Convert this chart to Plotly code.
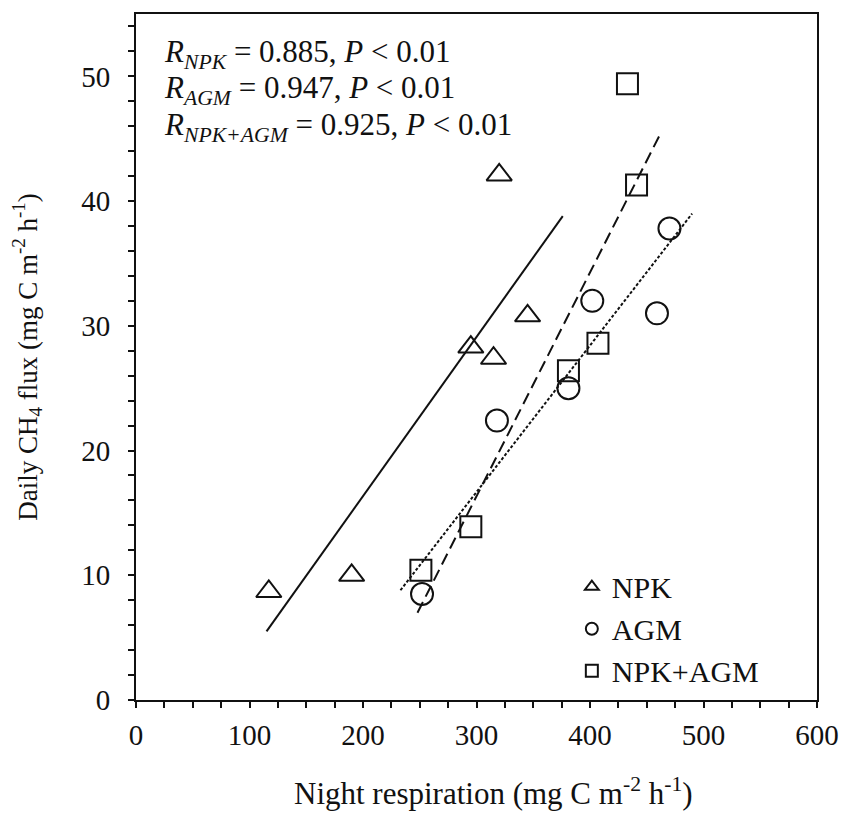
import plotly.graph_objects as go

# Data
npk_x = [117, 190, 295, 315, 345, 320]
npk_y = [8.7, 10.0, 28.3, 27.4, 30.8, 42.1]

agm_x = [252, 318, 381, 402, 459, 470]
agm_y = [8.5, 22.4, 25.0, 32.0, 31.0, 37.8]

mix_x = [251, 295, 381, 407, 441, 433]
mix_y = [10.4, 13.9, 26.4, 28.6, 41.3, 49.4]

# Regression line end points (as drawn in the reference)
fit_npk_x = [115, 376]
fit_npk_y = [5.5, 38.8]
fit_agm_x = [233, 490]
fit_agm_y = [8.8, 39.0]
fit_mix_x = [248, 462]
fit_mix_y = [7.0, 45.4]

stats = [("NPK", "0.885"), ("AGM", "0.947"), ("NPK+AGM", "0.925")]

FONT = "Liberation Serif, Times New Roman, serif"
BLACK = "#111111"

fig = go.Figure()

# regression lines
fig.add_trace(go.Scatter(x=fit_npk_x, y=fit_npk_y, mode="lines",
                         line=dict(color=BLACK, width=2, dash="solid"),
                         showlegend=False, hoverinfo="skip"))
fig.add_trace(go.Scatter(x=fit_agm_x, y=fit_agm_y, mode="lines",
                         line=dict(color=BLACK, width=2, dash="3px,2px"),
                         showlegend=False, hoverinfo="skip"))
fig.add_trace(go.Scatter(x=fit_mix_x, y=fit_mix_y, mode="lines",
                         line=dict(color=BLACK, width=2, dash="12px,6px"),
                         showlegend=False, hoverinfo="skip"))

# markers
fig.add_trace(go.Scatter(x=npk_x, y=npk_y, mode="markers", name="NPK",
                         marker=dict(symbol="triangle-up-open", size=22,
                                     color=BLACK, line=dict(width=2))))
fig.add_trace(go.Scatter(x=agm_x, y=agm_y, mode="markers", name="AGM",
                         marker=dict(symbol="circle-open", size=22,
                                     color=BLACK, line=dict(width=2))))
fig.add_trace(go.Scatter(x=mix_x, y=mix_y, mode="markers", name="NPK+AGM",
                         marker=dict(symbol="square-open", size=21,
                                     color=BLACK, line=dict(width=2))))

# R / P annotations
ys = [0.942, 0.889, 0.835]
for (lab, r), yy in zip(stats, ys):
    fig.add_annotation(
        xref="paper", yref="paper", x=0.038, y=yy, xanchor="left", yanchor="middle",
        showarrow=False, align="left",
        text=f"<i>R</i><sub><i>{lab}</i></sub> = {r}, <i>P</i> &lt; 0.01",
        font=dict(family=FONT, size=31, color=BLACK))

# x-axis title (placed as annotation to match reference offset)
fig.add_annotation(
    xref="paper", yref="paper", x=0.525, y=-0.134, xanchor="center", yanchor="middle",
    showarrow=False,
    text="Night respiration (mg C m<sup>-2</sup> h<sup>-1</sup>)",
    font=dict(family=FONT, size=31, color=BLACK))

axis_common = dict(
    showline=True, linecolor=BLACK, linewidth=2, mirror=True,
    ticks="outside", ticklen=6, tickwidth=1.5, tickcolor=BLACK,
    showgrid=False, zeroline=False,
    tickfont=dict(family=FONT, size=29, color=BLACK),
)

fig.update_xaxes(range=[0, 600], dtick=100, tick0=0, ticklabelstandoff=2,
                 minor=dict(dtick=25, ticks="outside", ticklen=6, tickwidth=1.5, tickcolor=BLACK),
                 **axis_common)
fig.update_yaxes(range=[0, 55], dtick=10, tick0=0, ticklabelstandoff=12,
                 minor=dict(dtick=2, ticks="outside", ticklen=6, tickwidth=1.5, tickcolor=BLACK),
                 title=dict(text="Daily CH<sub>4</sub> flux (mg C m<sup>-2</sup> h<sup>-1</sup>)",
                            font=dict(family=FONT, size=27, color=BLACK), standoff=36),
                 **axis_common)

fig.update_layout(
    width=851, height=814,
    margin=dict(l=136, r=25, t=14, b=114),
    paper_bgcolor="white", plot_bgcolor="white",
    font=dict(family=FONT, color=BLACK),
    legend=dict(x=0.64, y=0.203, xanchor="left", yanchor="top",
                bgcolor="rgba(0,0,0,0)", font=dict(family=FONT, size=30, color=BLACK),
                itemsizing="constant"),
)

fig.write_html("out.html")
